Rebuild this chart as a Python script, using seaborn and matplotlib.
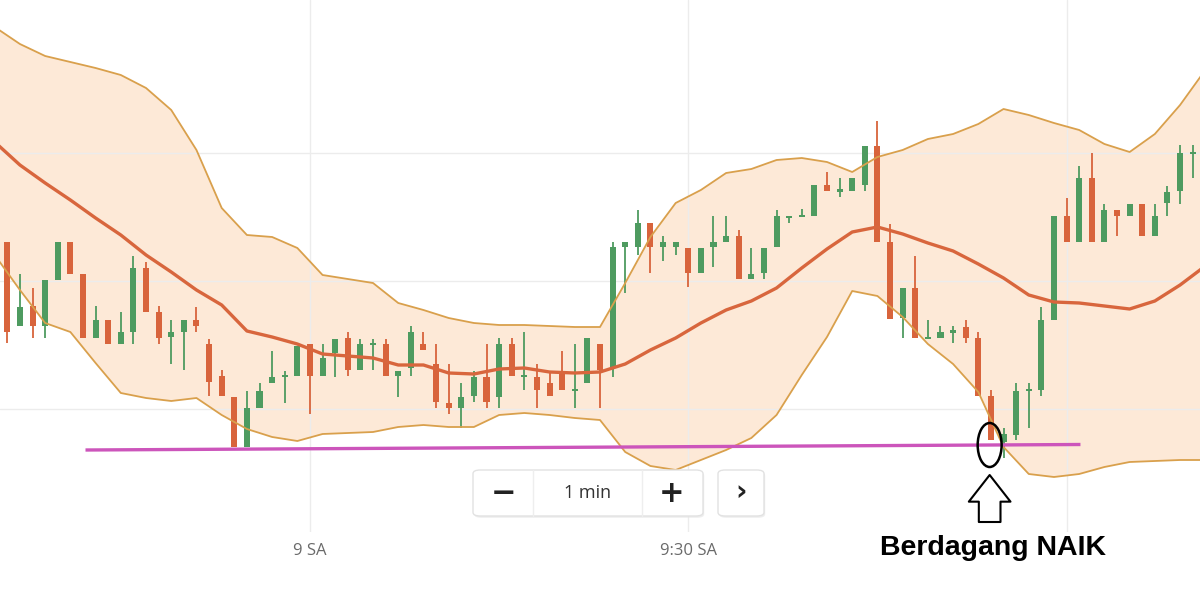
import matplotlib
matplotlib.use("Agg")
import matplotlib.pyplot as plt
from matplotlib.patches import Ellipse, FancyBboxPatch
import numpy as np
import pandas as pd
import seaborn as sns

# one candle per minute, minutes counted from 9:00
minutes = np.arange(-24, 71)

opens = [295, 211, 231, 211, 257, 295, 263, 199, 217, 193,
         205, 269, 225, 200, 205, 217, 193, 161, 140, 90,
         129, 154, 160, 161, 193, 161, 184, 199, 167, 192,
         193, 161, 169, 193, 173, 134, 129, 141, 160, 140,
         193, 160, 160, 154, 166, 146, 154, 193, 169, 290,
         290, 314, 290, 290, 289, 264, 290, 295, 301, 258,
         264, 290, 319, 320, 321, 352, 345.5, 346, 352, 391,
         295, 219, 249, 198, 199, 204.5, 210, 199, 141, 95,
         102, 146, 147, 217, 321, 295, 359, 295, 327, 321,
         333, 301, 334, 346, 383]
highs = [295, 263, 249, 257, 295, 295, 263, 231, 217, 225,
         281, 275, 231, 217, 217, 230, 198, 167, 140, 146,
         154, 186, 166, 191, 193, 193, 198, 205, 198, 198,
         198, 166, 211, 205, 193, 173, 154, 166, 193, 199,
         199, 205, 173, 166, 186, 193, 199, 193, 295, 295,
         327, 314, 301, 295, 289, 289, 321, 321, 307, 289,
         289, 327, 321, 328, 352, 365, 359, 359, 391, 416,
         313, 249, 281, 217, 211, 211, 217, 205, 147, 109,
         154, 154, 230, 321, 339, 371, 384, 333, 327, 333,
         333, 333, 351, 392, 392]
lows = [194, 211, 199, 199, 257, 263, 199, 199, 193, 193,
        193, 225, 193, 173, 167, 205, 141, 141, 90, 90,
        129, 154, 134, 161, 123, 161, 160, 161, 167, 167,
        161, 140, 161, 187, 129, 123, 109, 135, 129, 129,
        161, 147, 129, 141, 147, 129, 154, 129, 160, 244,
        282, 264, 276, 282, 250, 264, 270, 295, 258, 258,
        258, 290, 314, 320, 321, 346, 340, 346, 346, 295,
        218, 199, 199, 198, 199, 194, 194, 141, 97, 79,
        97, 109, 141, 217, 295, 295, 295, 295, 301, 321,
        301, 301, 321, 333, 359]
closes = [205, 230, 211, 257, 295, 263, 199, 217, 193, 205,
          269, 225, 199, 205, 217, 211, 155, 141, 90, 129,
          146, 160, 162, 191, 161, 179, 198, 167, 193, 194,
          161, 166, 205, 187, 135, 129, 140, 160, 135, 193,
          161, 161, 147, 141, 147, 148, 199, 167, 290, 295,
          314, 290, 295, 295, 264, 289, 295, 301, 258, 263,
          289, 321, 321, 321, 352, 346, 346.5, 359, 391, 295,
          218, 249, 199, 199, 205, 205.5, 199, 141, 97, 103,
          146, 147, 217, 321, 295, 359, 295, 327, 321, 333,
          301, 321, 345, 384, 384]

# Bollinger bands read every two minutes
band_minutes = np.arange(-25, 72, 2)
band_upper = [510, 493, 481, 475, 469, 462, 449, 427, 387, 329,
              302, 300, 289, 262, 258, 254, 234, 227, 219, 214,
              212, 212, 211, 210, 210, 254, 300, 334, 347, 364,
              368, 377, 379, 375, 365, 380, 387, 398, 403, 413,
              428, 422, 414, 407, 393, 385, 403, 432, 467]
band_middle = [395, 372, 354, 337, 319, 302, 282, 265, 247, 232,
               206, 200, 193, 183, 181, 179, 172, 172, 164, 163,
               168, 169, 165, 164, 165, 173, 187, 199, 214, 227,
               236, 249, 269, 288, 305, 310, 303, 294, 286, 273,
               259, 242, 235, 234, 231, 228, 236, 252, 271]
band_lower = [282, 247, 214, 205, 174, 144, 139, 136, 139, 122,
              108, 100, 96, 103, 104, 105, 110, 112, 110, 110,
              122, 124, 122, 119, 117, 85, 71, 67, 77, 87,
              99, 122, 162, 200, 246, 241, 220, 193, 173, 145,
              90, 63, 60, 63, 70, 75, 76, 77, 77]

support_minutes = [-17.8, 61.1]
support_level = [87, 92.5]
signal_minute = 53.9
signal_level = 92

tick_minutes = [0, 30, 60]
tick_labels = ["9 SA", "9:30 SA", ""]

GREEN = "#4e9b60"
RED = "#d8643c"

candles = pd.DataFrame({"minute": minutes, "open": opens, "high": highs,
                        "low": lows, "close": closes})
bands = pd.DataFrame({"minute": band_minutes, "upper": band_upper,
                      "middle": band_middle, "lower": band_lower})

sns.set_theme(style="white")
fig = plt.figure(figsize=(12, 6.08), dpi=100)
ax = fig.add_axes([0, 0.125, 1, 0.875])

# band fill
ax.fill_between(bands["minute"], bands["lower"], bands["upper"],
                color="#fde9d7", zorder=1, linewidth=0)

# candles
up = candles["close"] >= candles["open"]
colors = np.where(up, GREEN, RED)
body_low = candles[["open", "close"]].min(axis=1)
body_h = (candles["close"] - candles["open"]).abs().clip(lower=2.5)
ax.vlines(candles["minute"], candles["low"], candles["high"],
          colors=colors, linewidth=1.3, zorder=3)
ax.bar(candles["minute"], body_h, bottom=body_low, width=0.48,
       color=colors, linewidth=0, zorder=3)

# band lines
sns.lineplot(data=bands, x="minute", y="upper", ax=ax, color="#d9a04c",
             linewidth=1.3, zorder=4)
sns.lineplot(data=bands, x="minute", y="lower", ax=ax, color="#d9a04c",
             linewidth=1.3, zorder=4)
sns.lineplot(data=bands, x="minute", y="middle", ax=ax, color="#d8663d",
             linewidth=2.4, zorder=4)

# support line
ax.plot(support_minutes, support_level, color="#cc55bb", linewidth=2.4,
        zorder=5, solid_capstyle="butt")

# signal marker
ax.add_patch(Ellipse((signal_minute, signal_level), width=1.9, height=44,
                     fill=False, edgecolor="black", linewidth=1.8, zorder=6))
ax.annotate("", xy=(signal_minute, 62), xytext=(signal_minute, 15),
            arrowprops=dict(arrowstyle="simple,head_width=2.5,head_length=1.6,tail_width=1.3",
                            fc="white", ec="black", lw=1.5,
                            shrinkA=0, shrinkB=0),
            zorder=6)

ax.set_xlim(-24.58, 70.58)
ax.set_ylim(5, 537)
ax.set_xticks(tick_minutes)
ax.set_xticklabels(tick_labels, color="#6a6a6a", fontsize=12,
                   family=["Open Sans", "DejaVu Sans"])
ax.set_yticks([128, 256, 384])
ax.set_yticklabels([])
ax.tick_params(axis="both", length=0, pad=8)
ax.grid(True, color="#ececec", linewidth=1)
ax.set_axisbelow("line")
for s in ax.spines.values():
    s.set_visible(False)
ax.set_xlabel("")
ax.set_ylabel("")

# timeframe widget
W, H = 1200.0, 608.0
def box(x0, y0, x1, y1):
    fig.patches.append(FancyBboxPatch((x0 / W + 0.001, 1 - y1 / H - 0.003),
                                      (x1 - x0) / W, (y1 - y0) / H,
                                      boxstyle="round,pad=0,rounding_size=0.006",
                                      transform=fig.transFigure, fc="#e4e4e4",
                                      ec="none", alpha=0.6, zorder=7))
    fig.patches.append(FancyBboxPatch((x0 / W, 1 - y1 / H),
                                      (x1 - x0) / W, (y1 - y0) / H,
                                      boxstyle="round,pad=0,rounding_size=0.006",
                                      transform=fig.transFigure, fc="white",
                                      ec="#e2e2e2", lw=1, zorder=8))
box(473, 470, 703, 516)
box(718, 470, 764, 516)
for xd in (533, 641.7):
    fig.lines.append(plt.Line2D([xd / W, xd / W], [1 - 516 / H, 1 - 470 / H],
                                transform=fig.transFigure, color="#eeeeee",
                                lw=1, zorder=9))
fig.text(503 / W, 1 - 493 / H, "−", ha="center", va="center", fontsize=22,
         fontweight="bold", color="#222222", zorder=10)
fig.text(588 / W, 1 - 493 / H, "1 min", ha="center", va="center", fontsize=13,
         color="#333333", family=["Open Sans", "DejaVu Sans"], zorder=10)
fig.text(672 / W, 1 - 493 / H, "+", ha="center", va="center", fontsize=22,
         fontweight="bold", color="#222222", zorder=10)
fig.text(741 / W, 1 - 492 / H, "›", ha="center", va="center", fontsize=20,
         fontweight="bold", color="#222222", zorder=10)

fig.text(993 / W, 1 - 548 / H, "Berdagang NAIK", ha="center", va="center",
         fontsize=20.5, fontweight="bold", color="black",
         family=["Liberation Sans", "DejaVu Sans"])

fig.savefig("out.png", dpi=100)
